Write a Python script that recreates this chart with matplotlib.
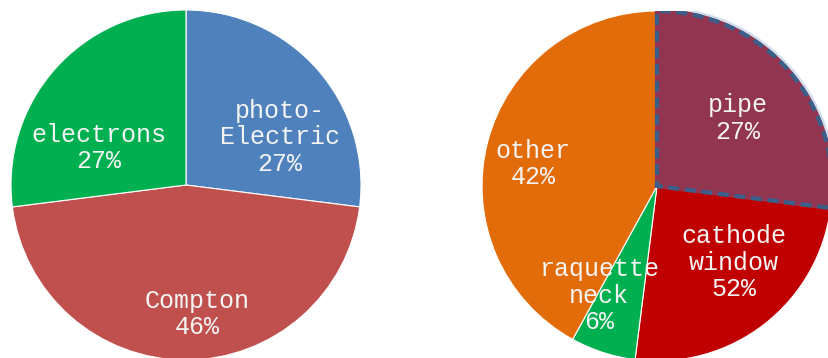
import numpy as np
import matplotlib
matplotlib.use("Agg")
import matplotlib.pyplot as plt
from matplotlib.patches import Wedge, Arc

# Interaction types
interaction_labels = ["photo-\nElectric", "Compton", "electrons"]
interaction_share = [27, 46, 27]
interaction_colors = ["#4F81BD", "#C0504D", "#00B050"]

# Where the light is lost
loss_labels = ["pipe", "cathode\nwindow", "raquette\nneck", "other"]
loss_share = [27, 25, 6, 42]
loss_pct_text = ["27%", "52%", "6%", "42%"]
loss_colors = ["#913550", "#C00000", "#00B050", "#E36C0A"]

# label placement inside each pie: (radius fraction, angle in degrees)
left_label_pos = [(0.60, 27), (0.74, -85), (0.54, 157)]
right_label_pos = [(0.60, 40), (0.62, -45), (0.71, -118), (0.72, 170)]

plt.rcParams["font.family"] = ["Liberation Mono", "DejaVu Sans Mono"]
text_color = "#F4F4F4"
fsize = 18

fig = plt.figure(figsize=(8.29, 3.58), dpi=100)
W, H = 829, 358


def pie_axes(cx, cy, r):
    # cx, cy in pixels from top-left
    return fig.add_axes([(cx - r) / W, (H - cy - r) / H, 2 * r / W, 2 * r / H])


def draw_labels(ax, names, pcts, pos):
    for name, pct, (rf, ang) in zip(names, pcts, pos):
        a = np.deg2rad(ang)
        ax.text(rf * np.cos(a), rf * np.sin(a), name + "\n" + pct,
                ha="center", va="center", color=text_color,
                fontsize=fsize, linespacing=1.12, zorder=5)


# left pie
ax1 = pie_axes(186, 185, 175)
ax1.pie(interaction_share, colors=interaction_colors, startangle=90,
        counterclock=False, radius=1,
        wedgeprops=dict(edgecolor="white", linewidth=0.8))
draw_labels(ax1, interaction_labels,
            [f"{v}%" for v in interaction_share], left_label_pos)
ax1.set_xlim(-1, 1)
ax1.set_ylim(-1, 1)
ax1.axis("off")

# right pie
ax2 = pie_axes(657, 186, 175)
wedges, _ = ax2.pie(loss_share, colors=loss_colors, startangle=90,
                    counterclock=False, radius=1,
                    wedgeprops=dict(edgecolor="white", linewidth=0.8))
draw_labels(ax2, loss_labels, loss_pct_text, right_label_pos)

# highlight the pipe slice with a dashed outline and a soft glow outside the arc
pipe = wedges[0]
pipe_color = pipe.get_facecolor()
glow = Arc(pipe.center, 2 * pipe.r * 1.014, 2 * pipe.r * 1.014,
           theta1=pipe.theta1, theta2=pipe.theta2,
           edgecolor="#C6D6EA", linewidth=3, alpha=0.8, zorder=3)
ax2.add_patch(glow)
backing = Wedge(pipe.center, pipe.r, pipe.theta1, pipe.theta2,
                facecolor="none", edgecolor=pipe_color,
                linewidth=3.0, joinstyle="miter", zorder=3.5)
ax2.add_patch(backing)
outline = Wedge(pipe.center, pipe.r, pipe.theta1, pipe.theta2,
                facecolor="none", edgecolor="#3A5F8B",
                linewidth=3.0, linestyle=(0, (2.6, 1.4)),
                joinstyle="miter", zorder=4)
ax2.add_patch(outline)
ax2.set_xlim(-1, 1)
ax2.set_ylim(-1, 1)
ax2.axis("off")

fig.savefig("out.png", dpi=100, facecolor="white")
